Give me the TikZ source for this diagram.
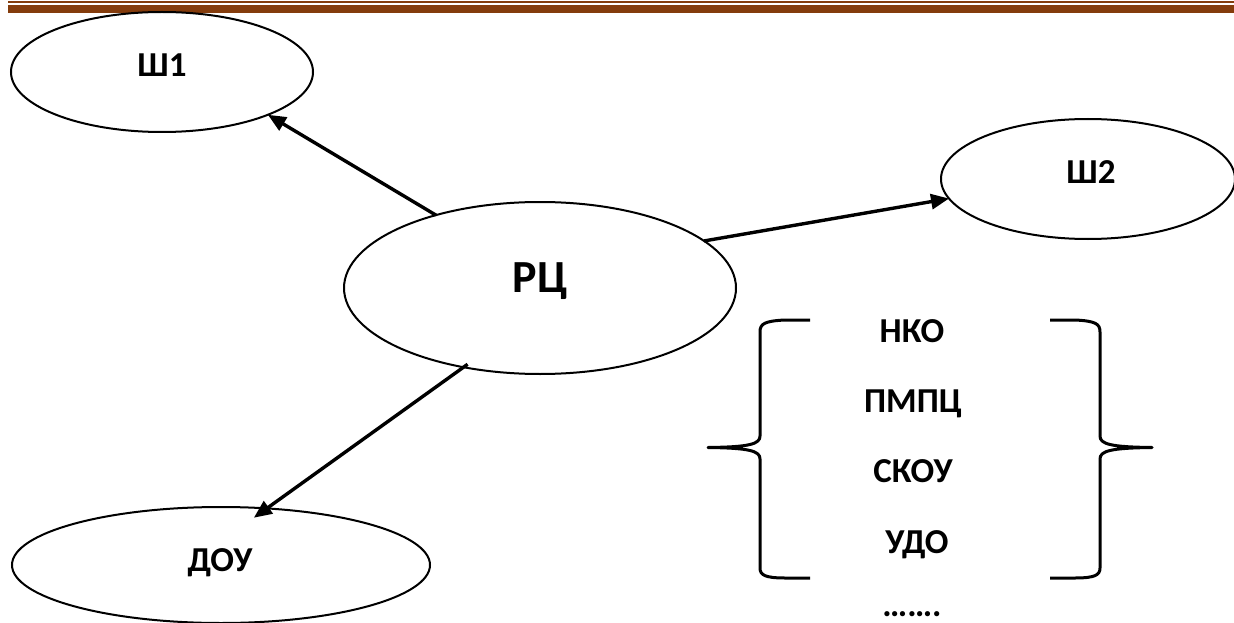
\documentclass[tikz,border=0pt]{standalone}
\usepackage{fontspec}
\setmainfont{Carlito}
\usetikzlibrary{shapes.geometric,arrows.meta}
\definecolor{hdrbrown}{RGB}{132,60,12}
\tikzset{
  oval/.style={draw=black, line width=2pt, ellipse, inner sep=0pt, outer sep=0pt},
  lbl/.style={font=\bfseries\fontsize{35}{40}\selectfont, anchor=base, inner sep=0pt},
  biglbl/.style={font=\bfseries\fontsize{46}{50}\selectfont, anchor=base, inner sep=0pt},
  arr/.style={line width=3.4pt, -{Triangle[length=18pt,width=15pt]}},
  brace/.style={line width=3pt, line cap=butt, line join=round},
  hdr/.style={hdrbrown}
}
\begin{document}
\begin{tikzpicture}[x=1pt,y=-1pt]
\useasboundingbox (0,0) rectangle (1234,623);
% header rules
\fill[hdr] (8,1) rectangle (1234,2.7);
\fill[hdr] (8,4.7) rectangle (1234,13.3);
% ellipses
\node[oval, minimum width=302pt, minimum height=120pt] (sh1) at (162,72) {};
\node[oval, minimum width=294pt, minimum height=120pt] (sh2) at (1088,179) {};
\node[oval, minimum width=392pt, minimum height=172pt] (rc) at (540,288) {};
\node[oval, minimum width=418pt, minimum height=116pt] (dou) at (221,565) {};
% labels
\node[lbl] (sh1t) at (162,77) {Ш1};
\node[lbl] (sh2t) at (1091,183) {Ш2};
\node[biglbl] (rct) at (540,292) {РЦ};
\node[lbl] (dout) at (220,571) {ДОУ};
\node[lbl] (nko) at (912,342) {НКО};
\node[lbl] (pmpc) at (913,412) {ПМПЦ};
\node[lbl] (skou) at (913,482) {СКОУ};
\node[lbl] (udo) at (917,553) {УДО};
\node[lbl] (dots) at (912,616) {…….};
% arrows
\draw[arr] (rc.145.5) -- (sh1.338.3);
\draw[arr] (rc.16.8) -- (sh2.188);
\draw[arr, shorten >=-16pt, shorten <=-5pt] (rc.226.7) -- (dou.51.1);
% braces
\draw[brace] (810,320) -- (785,320) .. controls (764,321) and (760,324) .. (760,332)
  -- (760,436) .. controls (760,444) and (750,447) .. (708,447.5)
  .. controls (750,448) and (760,451) .. (760,459)
  -- (760,568) .. controls (760,575) and (765,578) .. (785,578) -- (810,578);
\draw[brace] (1050,320) -- (1075,320) .. controls (1096,321) and (1100,324) .. (1100,332)
  -- (1100,436) .. controls (1100,444) and (1110,447) .. (1152,447.5)
  .. controls (1110,448) and (1100,451) .. (1100,459)
  -- (1100,568) .. controls (1100,575) and (1095,578) .. (1075,578) -- (1050,578);
\end{tikzpicture}
\end{document}
